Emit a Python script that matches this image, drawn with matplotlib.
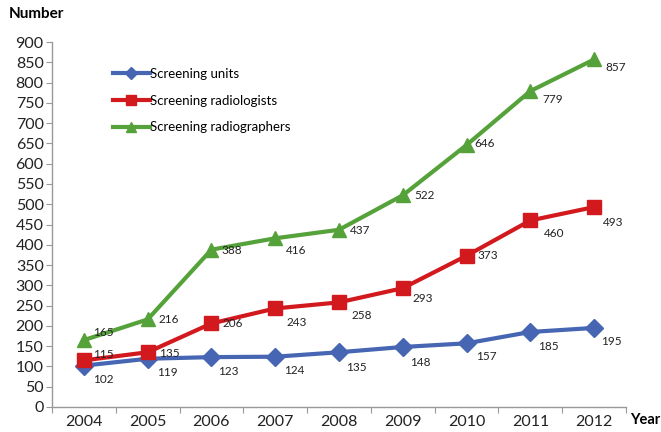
import matplotlib
matplotlib.use("Agg")
import matplotlib.pyplot as plt
import numpy as np

years = ["2004", "2005", "2006", "2007", "2008", "2009", "2010", "2011", "2012"]
units = [102, 119, 123, 124, 135, 148, 157, 185, 195]
radiologists = [115, 135, 206, 243, 258, 293, 373, 460, 493]
radiographers = [165, 216, 388, 416, 437, 522, 646, 779, 857]
series_names = ["Screening units", "Screening radiologists", "Screening radiographers"]

# label offsets in pixels (dx, dy) with dy positive downward
off_units = [(9, 14), (9, 14), (7, 14), (9, 14), (7, 15), (7, 16), (10, 13), (8, 15), (7, 14)]
off_rad = [(9, -6), (11, 1), (11, 0), (11, 14), (13, 13), (10, 10), (11, 0), (14, 13), (9, 15)]
off_rgr = [(9, -8), (11, 0), (10, 1), (11, 12), (11, 1), (12, 0), (8, -2), (12, 8), (11, 8)]

plt.rcParams['font.family'] = ['Lato', 'DejaVu Sans']

fig = plt.figure(figsize=(6.61, 4.32), dpi=100)
ax = fig.add_axes([52/661, 25/432, (626-52)/661, (407-42)/432])

x = np.arange(len(years))
colors = ['#4666B3', '#D2191D', '#56A23A']
markers = ['D', 's', '^']
msizes = [9, 10, 10]
data = [units, radiologists, radiographers]
offsets = [off_units, off_rad, off_rgr]

for vals, name, c, m, ms, offs in zip(data, series_names, colors, markers, msizes, offsets):
    ax.plot(x, vals, color=c, lw=3, marker=m, ms=ms, label=name, zorder=3)
    for xi, v, (dx, dy) in zip(x, vals, offs):
        ax.annotate(str(v), (xi, v), xytext=(dx, -dy), textcoords='offset pixels',
                    ha='left', va='center', fontsize=8.5, color='#222222', zorder=4)

ax.set_xlim(-0.5, len(years) - 0.5)
ax.set_ylim(0, 900)
ax.set_yticks(np.arange(0, 901, 50))
ax.tick_params(axis='y', labelsize=11.5, length=4, color='#999999', pad=2, labelcolor='#222222')

ax.set_xticks(np.arange(-0.5, len(years), 1.0))
ax.set_xticklabels([])
ax.set_xticks(x, minor=True)
ax.set_xticklabels(years, minor=True)
ax.tick_params(axis='x', which='major', length=4, color='#999999')
ax.tick_params(axis='x', which='minor', length=0, labelsize=11.5, pad=6, labelcolor='#222222')

for s in ['top', 'right']:
    ax.spines[s].set_visible(False)
for s in ['left', 'bottom']:
    ax.spines[s].set_color('#999999')
    ax.spines[s].set_linewidth(1)

leg = ax.legend(loc='upper left', bbox_to_anchor=(0.085, 0.962), frameon=False,
                fontsize=9.5, handlelength=2.8, handletextpad=0.05, labelspacing=1.12,
                markerscale=0.7)

fig.text(9/661, 1 - 14/432, "Number", fontsize=11, fontweight='bold', va='center', ha='left')
fig.text(630/661, 1 - 420/432, "Year", fontsize=10.5, fontweight='bold', va='center', ha='left')

fig.savefig("out.png", dpi=100)
